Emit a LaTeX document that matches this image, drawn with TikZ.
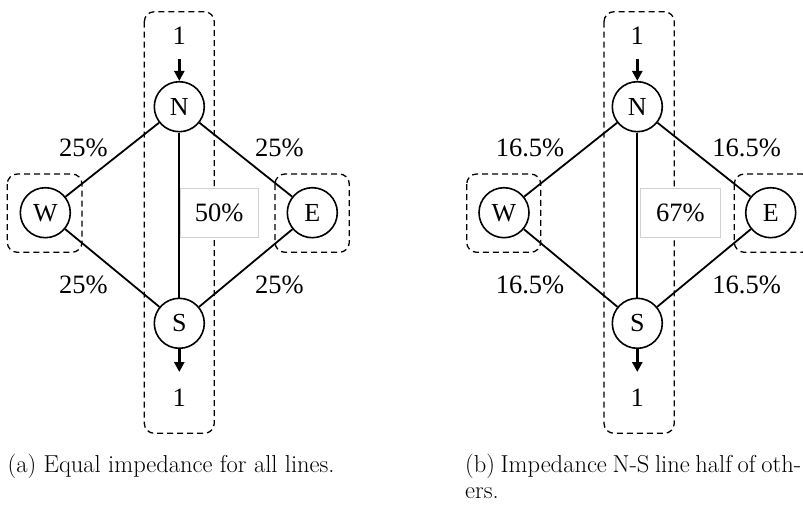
\documentclass[tikz,border=0pt]{standalone}
\usepackage{fontspec}
\newfontfamily\tnr{Liberation Serif}
\usetikzlibrary{arrows.meta}
\begin{document}
\begin{tikzpicture}[x=1pt,y=-1pt,
  bus/.style={circle,draw,line width=1.6pt,fill=white,minimum size=50pt,inner sep=0pt,font=\tnr\fontsize{26}{30}\selectfont},
  lbl/.style={font=\tnr\fontsize{26.5}{30}\selectfont,inner sep=0pt},
  area/.style={draw,dashed,dash pattern=on 6pt off 4pt,line width=1.3pt,rounded corners=10pt},
  wire/.style={line width=1.8pt},
  flow/.style={line width=2.6pt,-{Triangle[length=10pt,width=10pt]}},
  pct/.style={draw=black!18,line width=0.8pt,fill=white,font=\tnr\fontsize{26.5}{30}\selectfont,minimum width=78pt,minimum height=49pt,inner sep=0pt},
  captext/.style={font=\fontsize{24.5}{30}\selectfont,inner sep=0pt,anchor=base west}]
\useasboundingbox (0,0) rectangle (803,504);
\clip (0,0) rectangle (803,504);
% ---------- panel (a) ----------
\draw[area] (144.3,11.7) rectangle (214.3,433.3);
\draw[area] (7.3,174) rectangle (82,252.3);
\draw[area] (275,174) rectangle (349.3,252.3);
\node[bus] (aN) at (179.3,106.7) {N};
\node[bus] (aS) at (179.3,323.3) {S};
\node[bus] (aW) at (45.3,212.7) {W};
\node[bus] (aE) at (312.3,212.7) {E};
\node[pct] (aNS) at (219.2,212.8) {50\%};
\draw[wire] (aN) -- (aW);
\draw[wire] (aN) -- (aE);
\draw[wire] (aS) -- (aW);
\draw[wire] (aS) -- (aE);
\draw[wire] (aN) -- (aS);
\node[lbl] (ain) at (179.3,36) {1};
\node[lbl] (aout) at (179.3,398) {1};
\coordinate (ainA) at (179.3,59);
\coordinate (aoutB) at (179.3,372);
\draw[flow] (ainA) -- (aN.north);
\draw[flow] (aS.south) -- (aoutB);
\node[lbl] (aNW) at (83.3,148.3) {25\%};
\node[lbl] (aNE) at (279.3,148.3) {25\%};
\node[lbl] (aSW) at (83.3,285) {25\%};
\node[lbl] (aSE) at (279.3,285) {25\%};
% ---------- panel (b) ----------
\draw[area] (604,11.7) rectangle (674.3,433.3);
\draw[area] (466.7,174) rectangle (540.7,252.3);
\draw[area] (734.3,174) rectangle (812,252.3);
\node[bus] (bN) at (637.3,106.7) {N};
\node[bus] (bS) at (637.3,323.3) {S};
\node[bus] (bW) at (504,212.7) {W};
\node[bus] (bE) at (770.7,212.7) {E};
\node[pct,minimum width=80.5pt] (bNS) at (680.3,212.8) {67\%};
\draw[wire] (bN) -- (bW);
\draw[wire] (bN) -- (bE);
\draw[wire] (bS) -- (bW);
\draw[wire] (bS) -- (bE);
\draw[wire] (bN) -- (bS);
\node[lbl] (bin) at (637.3,36) {1};
\node[lbl] (bout) at (637.3,398) {1};
\coordinate (binA) at (637.3,59);
\coordinate (boutB) at (637.3,372);
\draw[flow] (binA) -- (bN.north);
\draw[flow] (bS.south) -- (boutB);
\node[lbl] (bNW) at (530,148.3) {16.5\%};
\node[lbl] (bNE) at (746.7,148.3) {16.5\%};
\node[lbl] (bSW) at (530,285) {16.5\%};
\node[lbl] (bSE) at (746.7,285) {16.5\%};
% ---------- captions ----------
\node[captext] (capa) at (7.5,472.5) {(a) Equal impedance for all lines.};
\node[captext] (capb) at (465,472.5) {\makebox[336pt][s]{(b) Impedance N-S line half of oth-}};
\node[captext] (capc) at (465,498.5) {ers.};
\end{tikzpicture}
\end{document}
